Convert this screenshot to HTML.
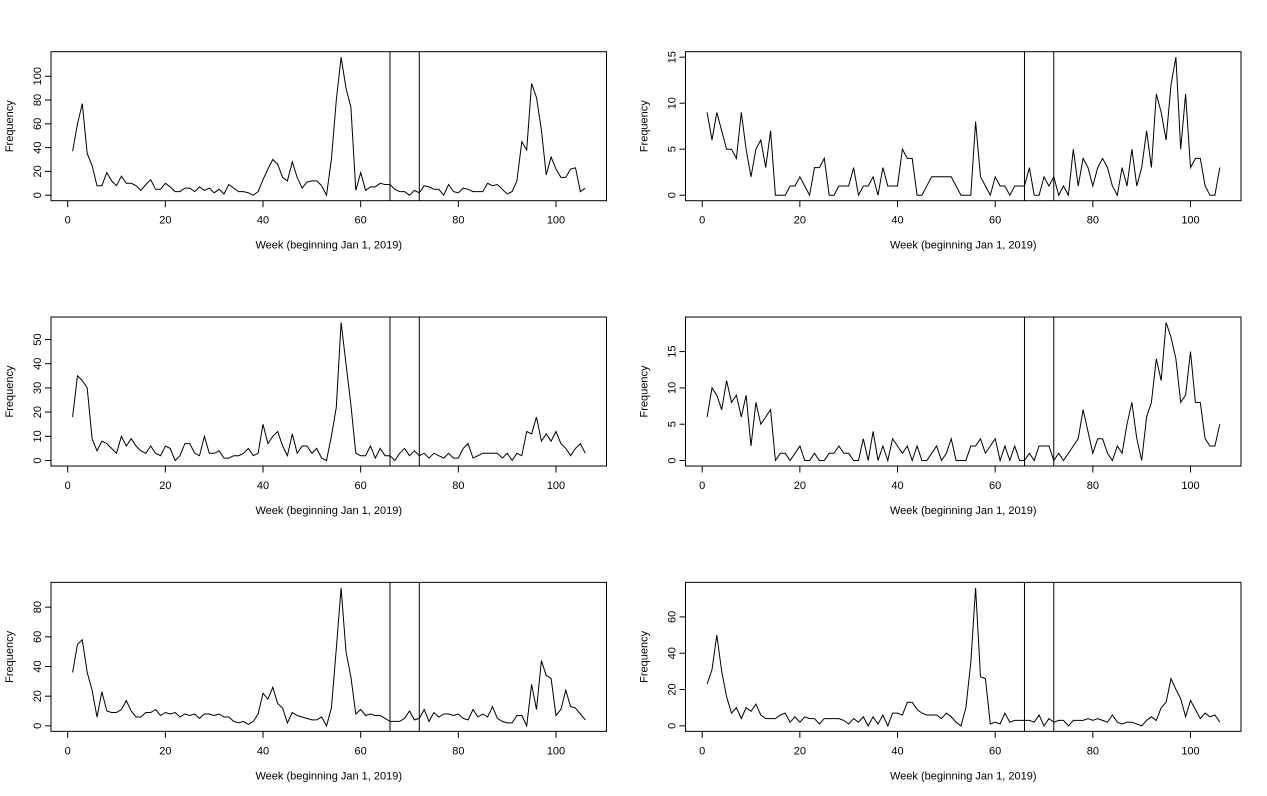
<!DOCTYPE html>
<html><head><meta charset="utf-8"><style>
html,body{margin:0;padding:0;background:#fff;}
svg{display:block;font-family:"Liberation Sans",Arial,sans-serif;}
</style></head><body>
<svg id="s" width="1267" height="796" xmlns="http://www.w3.org/2000/svg"></svg>
<script>
var D=[
[37,60,77,35,25,8,8,19,12,8,16,10,10,8,4,9,13,5,5,10,7,3,3,6,6,3,7,4,6,2,5,1,9,6,3,3,2,0,3,13,22,30,26,15,12,28,15,6,11,12,12,8,0,30,80,116,90,74,4,19,4,7,7,10,9,9,5,3,3,0,4,2,8,7,5,5,0,9,3,2,6,5,3,3,3,10,8,9,5,1,3,12,45,38,94,82,55,17,32,22,15,15,22,23,3,6],
[9,6,9,7,5,5,4,9,5,2,5,6,3,7,0,0,0,1,1,2,1,0,3,3,4,0,0,1,1,1,3,0,1,1,2,0,3,1,1,1,5,4,4,0,0,1,2,2,2,2,2,1,0,0,0,8,2,1,0,2,1,1,0,1,1,1,3,0,0,2,1,2,0,1,0,5,1,4,3,1,3,4,3,1,0,3,1,5,1,3,7,3,11,9,6,12,15,5,11,3,4,4,1,0,0,3],
[18,35,33,30,9,4,8,7,5,3,10,6,9,6,4,3,6,3,2,6,5,0,2,7,7,3,2,10,3,3,4,1,1,2,2,3,5,2,3,15,7,10,12,6,2,11,3,6,6,3,5,1,0,10,22,57,40,23,3,2,2,6,1,5,2,2,0,3,5,2,4,2,3,1,3,2,1,3,1,1,5,7,1,2,3,3,3,3,1,3,0,3,2,12,11,18,8,11,8,12,7,5,2,5,7,3],
[6,10,9,7,11,8,9,6,9,2,8,5,6,7,0,1,1,0,1,2,0,0,1,0,0,1,1,2,1,1,0,0,3,0,4,0,2,0,3,2,1,2,0,2,0,0,1,2,0,1,3,0,0,0,2,2,3,1,2,3,0,2,0,2,0,0,1,0,2,2,2,0,1,0,1,2,3,7,4,1,3,3,1,0,2,1,5,8,3,0,6,8,14,11,19,17,14,8,9,15,8,8,3,2,2,5],
[36,55,58,36,24,6,23,10,9,9,11,17,10,6,6,9,9,11,7,9,8,9,6,8,7,8,5,8,8,7,8,6,6,3,2,3,1,3,8,22,18,26,15,12,2,9,7,6,5,4,4,6,0,12,52,93,50,33,8,11,7,8,7,7,5,3,3,3,5,10,4,5,11,3,9,6,8,8,7,8,5,4,11,6,8,6,13,5,3,2,2,7,7,0,28,11,44,34,32,7,11,24,13,12,8,4],
[23,31,50,30,16,7,10,4,10,8,12,6,4,4,4,6,7,2,5,2,5,4,4,1,4,4,4,4,3,1,4,2,5,0,5,1,6,0,7,7,6,13,13,9,7,6,6,6,4,7,5,2,0,10,35,76,27,26,1,2,1,7,2,3,3,3,3,2,6,0,4,2,3,3,0,3,3,3,4,3,4,3,2,6,2,1,2,2,1,0,3,5,3,10,13,26,20,15,5,14,9,4,7,5,6,2]
];
var TK=[[0,20,40,60,80,100],[0,5,10,15],[0,10,20,30,40,50],[0,5,10,15],[0,20,40,60,80],[0,20,40,60]];
var s='';
for(var p=0;p<6;p++){
 var col=p%2,row=Math.floor(p/2);
 var L=col?685.5:51,R=L+555.5,T=51.7+row*265.33,B=T+149;
 var x0=L+16.7,kx=4.883;
 var max=Math.max.apply(null,D[p]);
 var y0=B-5.5,ky=138/max;
 s+='<rect x="'+L+'" y="'+T+'" width="'+(R-L)+'" height="'+(B-T)+'" fill="none" stroke="#000" stroke-width="1"/>';
 var pts=D[p].map(function(v,i){return (x0+kx*(i+1)).toFixed(1)+','+(y0-v*ky).toFixed(1);}).join(' ');
 s+='<polyline points="'+pts+'" fill="none" stroke="#000" stroke-width="1"/>';
 [66,72].forEach(function(w){var x=x0+kx*w;s+='<line x1="'+x+'" y1="'+T+'" x2="'+x+'" y2="'+B+'" stroke="#000"/>';});
 for(var w=0;w<=100;w+=20){var x=x0+kx*w;
  s+='<line x1="'+x+'" y1="'+B+'" x2="'+x+'" y2="'+(B+6.5)+'" stroke="#000"/>';
  s+='<text x="'+x+'" y="'+(B+23)+'" font-size="11" text-anchor="middle">'+w+'</text>';}
 TK[p].forEach(function(v){var y=y0-v*ky;
  s+='<line x1="'+(L-6)+'" y1="'+y+'" x2="'+L+'" y2="'+y+'" stroke="#000"/>';
  s+='<text transform="translate('+(L-10)+','+y+') rotate(-90)" font-size="11" text-anchor="middle">'+v+'</text>';});
 s+='<text x="'+((L+R)/2)+'" y="'+(B+48)+'" font-size="11" text-anchor="middle">Week (beginning Jan 1, 2019)</text>';
 s+='<text transform="translate('+(L-38)+','+((T+B)/2)+') rotate(-90)" font-size="11" text-anchor="middle">Frequency</text>';
}
document.getElementById('s').innerHTML=s;
</script>
</body></html>
